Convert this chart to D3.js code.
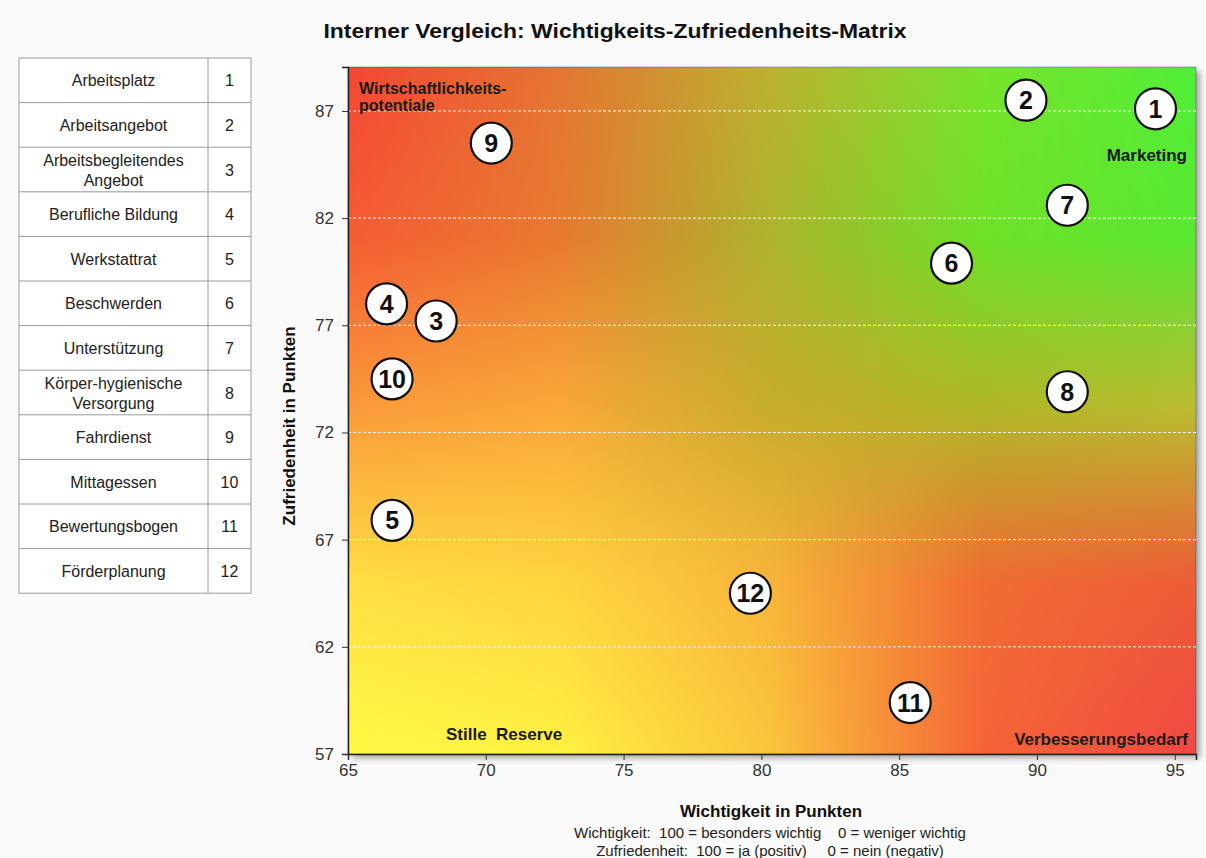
<!DOCTYPE html>
<html>
<head>
<meta charset="utf-8">
<script src="https://d3js.org/d3.v7.min.js"></script>
<style>
  body { margin: 0; background: #fafafa; }
  text { font-family: Arial, "Liberation Sans", sans-serif; }
</style>
</head>
<body>
<script>
  // data
  const items = ['Arbeitsplatz', 'Arbeitsangebot', 'Arbeitsbegleitendes\nAngebot', 'Berufliche Bildung',
    'Werkstattrat', 'Beschwerden', 'Unterstützung', 'Körper-hygienische\nVersorgung', 'Fahrdienst',
    'Mittagessen', 'Bewertungsbogen', 'Förderplanung'];
  const ids = [1, 2, 3, 4, 5, 6, 7, 8, 9, 10, 11, 12];
  const wichtigkeit = [94.3, 89.6, 68.2, 66.4, 66.6, 86.9, 91.1, 91.1, 70.2, 66.6, 85.4, 79.6];
  const zufriedenheit = [87.1, 87.5, 77.2, 78.0, 67.9, 79.9, 82.6, 73.9, 85.5, 74.5, 59.4, 64.5];
  const xTicks = [65, 70, 75, 80, 85, 90, 95];
  const yTicks = [57, 62, 67, 72, 77, 82, 87];

  const W = 1206, H = 858;
  const plot = { left: 348, right: 1196, top: 67, bottom: 754 };

  const svg = d3.select('body').append('svg').attr('width', W).attr('height', H);
  const defs = svg.append('defs');

  const x = d3.scaleLinear().domain([65, 95.77]).range([plot.left, plot.right]);
  const y = d3.scaleLinear().domain([57, 89.05]).range([plot.bottom, plot.top]);

  // title
  svg.append('text').attr('x', 615).attr('y', 38).attr('text-anchor', 'middle')
    .attr('textLength', 583).attr('lengthAdjust', 'spacingAndGlyphs')
    .style('font-size', '21px').style('font-weight', 'bold').attr('fill', '#111')
    .text('Interner Vergleich: Wichtigkeits-Zufriedenheits-Matrix');

  // legend table
  const tbl = { left: 19, right: 251, div: 208, top: 58, rowH: 44.6 };
  const tg = svg.append('g');
  tg.append('rect').attr('x', tbl.left).attr('y', tbl.top).attr('width', tbl.right - tbl.left)
    .attr('height', tbl.rowH * items.length).attr('fill', '#fff').attr('stroke', '#9a9a9a');
  tg.append('line').attr('x1', tbl.div).attr('x2', tbl.div).attr('y1', tbl.top)
    .attr('y2', tbl.top + tbl.rowH * items.length).attr('stroke', '#9a9a9a');
  items.forEach((name, i) => {
    const y0 = tbl.top + i * tbl.rowH;
    if (i > 0) tg.append('line').attr('x1', tbl.left).attr('x2', tbl.right).attr('y1', y0).attr('y2', y0).attr('stroke', '#9a9a9a');
    const lines = name.split('\n');
    const t = tg.append('text').attr('text-anchor', 'middle').style('font-size', '16px').attr('fill', '#222');
    lines.forEach((l, j) => {
      t.append('tspan').attr('x', (tbl.left + tbl.div) / 2)
        .attr('y', y0 + tbl.rowH / 2 + 6 + (j - (lines.length - 1) / 2) * 20).text(l);
    });
    tg.append('text').attr('x', (tbl.div + tbl.right) / 2).attr('y', y0 + tbl.rowH / 2 + 6)
      .attr('text-anchor', 'middle').style('font-size', '16px').attr('fill', '#222').text(ids[i]);
  });

  // background colour field: 5x5 control colours, bilinear blend, painted on a canvas
  const bgGrid = [
    [[244, 70, 52], [228, 118, 50], [188, 178, 48], [120, 228, 45], [80, 238, 55]],
    [[245, 92, 52], [232, 122, 48], [172, 180, 45], [110, 225, 40], [90, 232, 50]],
    [[250, 155, 58], [250, 168, 58], [200, 172, 45], [178, 182, 40], [188, 186, 48]],
    [[255, 222, 68], [255, 212, 64], [248, 180, 58], [240, 108, 52], [236, 92, 55]],
    [[255, 250, 70], [255, 240, 66], [250, 196, 60], [245, 100, 55], [242, 72, 68]]
  ];
  const pw = plot.right - plot.left, ph = plot.bottom - plot.top;
  const cv = document.createElement('canvas');
  cv.width = pw; cv.height = ph;
  const ctx = cv.getContext('2d');
  const img = ctx.createImageData(pw, ph);
  const n = bgGrid.length - 1;
  for (let py = 0; py < ph; py++) {
    const gv = py / (ph - 1) * n, r0 = Math.min(Math.floor(gv), n - 1), fv = gv - r0;
    for (let px = 0; px < pw; px++) {
      const gu = px / (pw - 1) * n, c0 = Math.min(Math.floor(gu), n - 1), fu = gu - c0;
      const k = (py * pw + px) * 4;
      for (let ch = 0; ch < 3; ch++) {
        const a = bgGrid[r0][c0][ch] * (1 - fu) + bgGrid[r0][c0 + 1][ch] * fu;
        const b = bgGrid[r0 + 1][c0][ch] * (1 - fu) + bgGrid[r0 + 1][c0 + 1][ch] * fu;
        img.data[k + ch] = a * (1 - fv) + b * fv;
      }
      img.data[k + 3] = 255;
    }
  }
  ctx.putImageData(img, 0, 0);

  const shadow = defs.append('filter').attr('id', 'shadow').attr('x', '-5%').attr('y', '-5%').attr('width', '115%').attr('height', '115%');
  shadow.append('feDropShadow').attr('dx', 4).attr('dy', 4).attr('stdDeviation', 3).attr('flood-color', '#000').attr('flood-opacity', 0.35);

  svg.append('rect').attr('x', plot.left).attr('y', plot.top).attr('width', pw).attr('height', ph)
    .attr('fill', '#c80').attr('filter', 'url(#shadow)');
  svg.append('image').attr('x', plot.left).attr('y', plot.top).attr('width', pw).attr('height', ph)
    .attr('preserveAspectRatio', 'none').attr('href', cv.toDataURL());
  svg.append('rect').attr('x', plot.left).attr('y', plot.top).attr('width', pw).attr('height', ph)
    .attr('fill', 'none').attr('stroke', 'rgba(0,0,0,0.25)');

  // grid lines
  svg.append('g').selectAll('line').data(yTicks.slice(1)).join('line')
    .attr('x1', plot.left).attr('x2', plot.right).attr('y1', d => y(d)).attr('y2', d => y(d))
    .attr('stroke', '#fff').attr('stroke-opacity', 0.9).attr('stroke-dasharray', '3,2').attr('stroke-width', 1);

  // axes
  const xAxis = svg.append('g').attr('transform', `translate(0,${plot.bottom})`)
    .call(d3.axisBottom(x).tickValues(xTicks).tickSize(6).tickPadding(4));
  const yAxis = svg.append('g').attr('transform', `translate(${plot.left},0)`)
    .call(d3.axisLeft(y).tickValues(yTicks).tickSize(6).tickPadding(8));
  [xAxis, yAxis].forEach(a => {
    a.select('.domain').attr('stroke', '#222').attr('stroke-width', 1.5);
    a.selectAll('.tick line').attr('stroke', '#333');
    a.selectAll('.tick text').style('font-size', '17px').attr('fill', '#333')
      .style('font-family', 'Arial, "Liberation Sans", sans-serif');
  });

  // axis titles
  svg.append('text').attr('x', 771).attr('y', 817).attr('text-anchor', 'middle')
    .style('font-size', '17px').style('font-weight', 'bold').attr('fill', '#111').text('Wichtigkeit in Punkten');
  svg.append('text').attr('x', 770).attr('y', 838).attr('text-anchor', 'middle').style('font-size', '15px').attr('fill', '#222')
    .attr('xml:space', 'preserve').text('Wichtigkeit:  100 = besonders wichtig    0 = weniger wichtig');
  svg.append('text').attr('x', 770).attr('y', 856).attr('text-anchor', 'middle').style('font-size', '15px').attr('fill', '#222')
    .attr('xml:space', 'preserve').text('Zufriedenheit:  100 = ja (positiv)     0 = nein (negativ)');
  svg.append('text').attr('transform', 'translate(295,426) rotate(-90)').attr('text-anchor', 'middle')
    .style('font-size', '17px').style('font-weight', 'bold').attr('fill', '#111').text('Zufriedenheit in Punkten');

  // quadrant labels
  const ql = svg.append('g').style('font-size', '17px').style('font-weight', 'bold').attr('fill', '#1a1a1a');
  ql.append('text').attr('x', 359).attr('y', 94).style('font-size', '16px').text('Wirtschaftlichkeits-');
  ql.append('text').attr('x', 359).attr('y', 111).style('font-size', '16px').text('potentiale');
  ql.append('text').attr('x', 1187).attr('y', 161).attr('text-anchor', 'end').text('Marketing');
  ql.append('text').attr('x', 446).attr('y', 740).attr('xml:space', 'preserve').text('Stille  Reserve');
  ql.append('text').attr('x', 1188).attr('y', 745).attr('text-anchor', 'end').text('Verbesserungsbedarf');

  // points
  const pts = svg.append('g').selectAll('g').data(ids).join('g')
    .attr('transform', (d, i) => `translate(${x(wichtigkeit[i])},${y(zufriedenheit[i])})`);
  pts.append('circle').attr('r', 20.5).attr('fill', '#fff').attr('stroke', '#111').attr('stroke-width', 2.2);
  pts.append('text').attr('text-anchor', 'middle').attr('dy', '0.36em')
    .style('font-size', '25px').style('font-weight', 'bold').attr('fill', '#111').text(d => d);
</script>
</body>
</html>
